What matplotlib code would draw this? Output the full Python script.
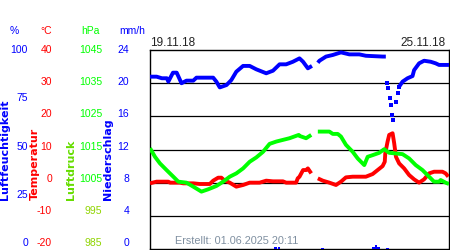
import numpy as np
import matplotlib
matplotlib.use('Agg')
import matplotlib.pyplot as plt
from matplotlib.transforms import blended_transform_factory

nan = np.nan

# hours since 19.11.18 00:00
hum_h = [0, 3.7, 6.7, 9.5, 10.3, 12.9, 15.0, 17.7, 20.5, 24.3, 26.1, 35.5, 37.3, 39.2, 43.0,
         45.7, 48.5, 52.3, 56.0, 59.7, 65.3, 69.1, 72.8, 76.5, 80.3, 84.0, 86.0, 88.7, 91.0, 92.5,
         94.3, 95.2, 98.9, 102.7, 107.3, 112.0, 117.6, 121.3, 130.7, 132.5, 133.1, 134.0, 134.6,
         135.2, 135.7, 136.8, 138.2, 139.1, 140.0, 141.9, 144.7, 147.5, 148.4, 151.2, 154.0,
         157.7, 160.5, 162.4, 168.0]
hum_v = [86.6, 86.6, 85.8, 85.8, 84.1, 88.6, 88.6, 83.3, 84.6, 84.6, 86.1, 86.1, 84.1, 81.2, 82.4,
         84.9, 89.1, 92.0, 92.0, 90.3, 88.3, 89.6, 92.8, 92.8, 94.1, 95.8, 94.1, 90.8, 92.0, nan,
         93.6, 94.6, 96.7, 97.5, 98.8, 97.8, 97.8, 97.1, 96.7, 96.7, 83.6, 80.7, 75.7,
         72.4, 67.3, 64.8, 74.0, 78.2, 81.6, 84.1, 85.8, 86.9, 89.9, 93.3, 94.6,
         94.1, 93.3, 92.5, 92.5]

temp_h = [0, 3.7, 10.3, 11.2, 16.8, 18.7, 24.3, 28.0, 33.6, 35.5, 38.3, 40.1, 42.0, 44.8, 48.5,
          52.3, 56.0, 61.6, 65.3, 69.1, 74.7, 76.5, 82.1, 83.0, 84.0, 86.0, 87.7, 88.7, 90.6, 92.5,
          94.3, 97.1, 100.8, 104.5, 107.3, 110.1, 113.9, 121.3, 125.1, 127.9, 130.7, 131.9, 132.2,
          133.5, 134.4, 136.3, 137.2, 138.2, 140.0, 142.8, 145.6, 148.4, 151.2, 154.0, 156.8,
          159.6, 164.3, 166.1, 167.6]
temp_v = [-0.2, 0.3, 0.3, 0.0, 0.0, -0.2, -0.2, -0.4, -0.4, 0.6, 1.5, 1.5, 0.6, 0.0, -1.2,
          -0.7, 0.0, 0.0, 0.6, 0.4, 0.4, 0.0, 0.0, 1.3, 1.8, 3.8, 3.8, 4.3, 2.8, nan,
          1.3, 0.6, 0.0, -0.7, 0.3, 1.6, 1.8, 1.8, 2.6, 3.8, 5.0, 6.3, 8.9,
          12.4, 14.4, 14.9, 11.9, 7.8, 5.8, 4.3, 2.3, 1.0, 0.0, 1.0, 2.8,
          3.3, 3.3, 2.8, 1.8]

pres_h = [0, 2.8, 5.6, 9.3, 13.1, 15.9, 20.5, 24.3, 28.9, 32.7, 37.3, 41.1, 44.8, 48.5, 52.3,
          56.0, 59.7, 63.5, 67.2, 71.0, 74.7, 78.4, 83.6, 84.0, 87.7, 90.6, 92.5, 94.3, 100.8,
          102.7, 105.5, 107.3, 110.1, 113.9, 116.7, 120.4, 122.3, 125.1, 128.8, 131.6, 134.4,
          138.2, 141.9, 145.6, 149.3, 153.1, 156.8, 159.6, 162.4, 163.3, 166.1, 168.0]
pres_v = [1015.4, 1012.8, 1010.8, 1008.8, 1006.8, 1005.3, 1005.0, 1003.8, 1002.3, 1003.0, 1004.0,
          1005.3, 1006.8, 1007.8, 1009.3, 1011.3, 1012.6, 1014.3, 1016.7, 1017.4, 1017.9, 1018.4,
          1019.4, 1019.1, 1018.4, 1019.4, nan, 1020.4, 1020.4, 1019.7, 1019.7, 1018.9, 1016.4,
          1014.3, 1012.3, 1010.3, 1012.8, 1013.3, 1014.0, 1015.1, 1014.0, 1013.8, 1013.6, 1012.3,
          1010.3, 1008.8, 1006.8, 1005.3, 1005.3, 1005.8, 1005.0, 1004.6]

rain_h = [70.5, 72.5, 97.0, 125.5, 127.0, 128.5, 133.3]
rain_v = [0.3, 0.3, 0.15, 0.3, 0.45, 0.3, 0.15]

hum_ticks = [100, 75, 50, 25, 0]
temp_ticks = [40, 30, 20, 10, 0, -10, -20]
pres_ticks = [1045, 1035, 1025, 1015, 1005, 995, 985]
rain_ticks = [24, 20, 16, 12, 8, 4, 0]

date_start = '19.11.18'
date_end = '25.11.18'
created = 'Erstellt: 01.06.2025 20:11'

BLUE = '#0000ff'
RED = '#ff0000'
GREEN = '#00ff00'

fig = plt.figure(figsize=(4.5, 2.5), dpi=100)
ax = fig.add_axes([150 / 450, 1 / 250, 299 / 450, 199 / 250])
ax.set_xlim(0, 168)
ax.set_ylim(-20, 40)
ax.set_xticks([])
ax.set_yticks([])
for t in [30, 20, 10, 0, -10]:
    ax.axhline(t, color='black', lw=0.9, zorder=1)
for s in ax.spines.values():
    s.set_linewidth(1.0)

ax_h = ax.twinx()
ax_p = ax.twinx()
ax_r = ax.twinx()
for a, lim in [(ax_h, (0, 100)), (ax_p, (985, 1045)), (ax_r, (0, 24))]:
    a.set_ylim(*lim)
    a.set_yticks([])
    for s in a.spines.values():
        s.set_visible(False)

ax_r.bar(rain_h, rain_v, width=1.6, color=BLUE, zorder=2)

# the fast drop of humidity shows up as single dots
d0, d1 = 40, 49
ax_h.plot(hum_h[:d0], hum_v[:d0], color=BLUE, lw=2.8, solid_capstyle='butt')
ax_h.plot(hum_h[d0:d1], hum_v[d0:d1], 's', color=BLUE, ms=3.4, mew=0)
ax_h.plot(hum_h[d1 - 1:], hum_v[d1 - 1:], color=BLUE, lw=2.8, solid_capstyle='butt')

ax.plot(temp_h, temp_v, color=RED, lw=2.8, solid_capstyle='butt', zorder=3)
ax_p.plot(pres_h, pres_v, color=GREEN, lw=2.8, solid_capstyle='butt')

# scale labels on the left
fnt = dict(family='Liberation Sans', fontsize=7.5)
tr = blended_transform_factory(fig.transFigure, ax.transAxes)

def scale_labels(ticks, lo, hi, x, colors):
    for v, c in zip(ticks, colors):
        y = 0.03 + 0.97 * (v - lo) / (hi - lo)
        fig.text(x, y, str(v), transform=tr, ha='right', va='center', color=c, **fnt)

scale_labels(hum_ticks, 0, 100, 28 / 450, [BLUE] * 5)
scale_labels(temp_ticks, -20, 40, 52 / 450, [RED] * 7)
scale_labels(pres_ticks, 985, 1045, 102 / 450, [GREEN] * 5 + ['#8fd400'] * 2)
scale_labels(rain_ticks, 0, 24, 129 / 450, [BLUE] * 7)

hy = 1 - 31 / 250
fig.text(14 / 450, hy, '%', ha='center', va='center', color=BLUE, **fnt)
fig.text(52 / 450, hy, '°C', ha='right', va='center', color=RED, **fnt)
fig.text(90 / 450, hy, 'hPa', ha='center', va='center', color=GREEN, **fnt)
fig.text(132 / 450, hy, 'mm/h', ha='center', va='center', color=BLUE, **fnt)

lab = dict(family='DejaVu Sans', fontsize=8, fontweight='bold', rotation=90,
           ha='center', va='bottom')
fig.text(5.5 / 450, 0.2, 'Luftfeuchtigkeit', color=BLUE, **lab)
fig.text(35 / 450, 0.2, 'Temperatur', color=RED, **lab)
fig.text(71 / 450, 0.2, 'Luftdruck', color='#66dd00', **lab)
fig.text(108 / 450, 0.2, 'Niederschlag', color=BLUE, **lab)

fig.text(150 / 450, 1 - 43 / 250, date_start, ha='left', va='center', color='#222222',
         family='Liberation Sans', fontsize=8.5)
fig.text(446 / 450, 1 - 43 / 250, date_end, ha='right', va='center', color='#222222',
         family='Liberation Sans', fontsize=8.5)
fig.text(175 / 450, 1 - 241 / 250, created, ha='left', va='center', color='#7f8fa0',
         family='Liberation Sans', fontsize=7.8)

fig.savefig('out.png', dpi=100)
